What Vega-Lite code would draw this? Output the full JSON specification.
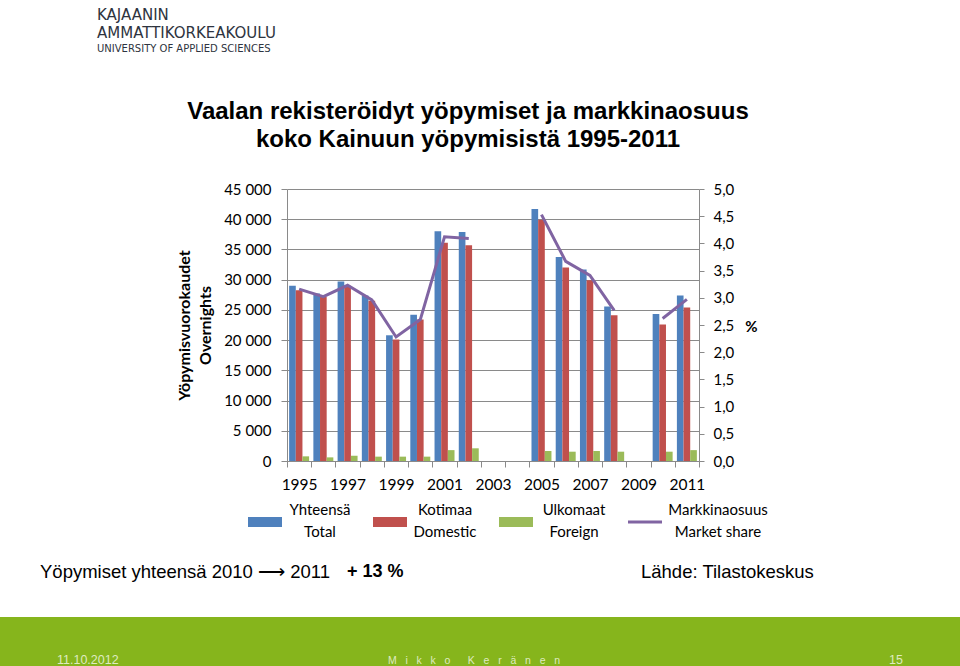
{
  "$schema": "https://vega.github.io/schema/vega-lite/v6.json",
  "background": "white",
  "padding": 0,
  "autosize": {"type": "pad"},
  "config": {
    "view": {"stroke": null},
    "font": "Lato",
    "title": {"font": "Liberation Sans", "color": "#000000"}
  },
  "datasets": {
    "overnights": [
      {"year": 1995, "series": "Yhteensä", "value": 29000}, {"year": 1995, "series": "Kotimaa", "value": 28250}, {"year": 1995, "series": "Ulkomaat", "value": 770},
      {"year": 1996, "series": "Yhteensä", "value": 27700}, {"year": 1996, "series": "Kotimaa", "value": 27150}, {"year": 1996, "series": "Ulkomaat", "value": 600},
      {"year": 1997, "series": "Yhteensä", "value": 29700}, {"year": 1997, "series": "Kotimaa", "value": 29000}, {"year": 1997, "series": "Ulkomaat", "value": 880},
      {"year": 1998, "series": "Yhteensä", "value": 27400}, {"year": 1998, "series": "Kotimaa", "value": 26500}, {"year": 1998, "series": "Ulkomaat", "value": 720},
      {"year": 1999, "series": "Yhteensä", "value": 20800}, {"year": 1999, "series": "Kotimaa", "value": 20100}, {"year": 1999, "series": "Ulkomaat", "value": 720},
      {"year": 2000, "series": "Yhteensä", "value": 24200}, {"year": 2000, "series": "Kotimaa", "value": 23400}, {"year": 2000, "series": "Ulkomaat", "value": 720},
      {"year": 2001, "series": "Yhteensä", "value": 38000}, {"year": 2001, "series": "Kotimaa", "value": 36100}, {"year": 2001, "series": "Ulkomaat", "value": 1800},
      {"year": 2002, "series": "Yhteensä", "value": 37900}, {"year": 2002, "series": "Kotimaa", "value": 35700}, {"year": 2002, "series": "Ulkomaat", "value": 2100},
      {"year": 2005, "series": "Yhteensä", "value": 41700}, {"year": 2005, "series": "Kotimaa", "value": 39900}, {"year": 2005, "series": "Ulkomaat", "value": 1650},
      {"year": 2006, "series": "Yhteensä", "value": 33750}, {"year": 2006, "series": "Kotimaa", "value": 32000}, {"year": 2006, "series": "Ulkomaat", "value": 1540},
      {"year": 2007, "series": "Yhteensä", "value": 31700}, {"year": 2007, "series": "Kotimaa", "value": 29900}, {"year": 2007, "series": "Ulkomaat", "value": 1650},
      {"year": 2008, "series": "Yhteensä", "value": 25550}, {"year": 2008, "series": "Kotimaa", "value": 24100}, {"year": 2008, "series": "Ulkomaat", "value": 1540},
      {"year": 2010, "series": "Yhteensä", "value": 24300}, {"year": 2010, "series": "Kotimaa", "value": 22600}, {"year": 2010, "series": "Ulkomaat", "value": 1540},
      {"year": 2011, "series": "Yhteensä", "value": 27400}, {"year": 2011, "series": "Kotimaa", "value": 25400}, {"year": 2011, "series": "Ulkomaat", "value": 1800}
    ],
    "share": [
      {"year": 1995, "share": 3.16, "segment": "a"}, {"year": 1996, "share": 3.02, "segment": "a"},
      {"year": 1997, "share": 3.23, "segment": "a"}, {"year": 1998, "share": 2.96, "segment": "a"},
      {"year": 1999, "share": 2.28, "segment": "a"}, {"year": 2000, "share": 2.6, "segment": "a"},
      {"year": 2001, "share": 4.12, "segment": "a"}, {"year": 2002, "share": 4.09, "segment": "a"},
      {"year": 2005, "share": 4.53, "segment": "b"}, {"year": 2006, "share": 3.67, "segment": "b"},
      {"year": 2007, "share": 3.41, "segment": "b"}, {"year": 2008, "share": 2.77, "segment": "b"},
      {"year": 2010, "share": 2.62, "segment": "c"}, {"year": 2011, "share": 2.97, "segment": "c"}
    ]
  },
  "columns": 3,
  "bounds": "flush",
  "spacing": 0,
  "concat": [
    {
      "width": 287, "height": 189,
      "data": {"values": []}, "mark": "point",
      "title": {"text": ["KAJAANIN", "AMMATTIKORKEAKOULU"], "subtitle": "UNIVERSITY OF APPLIED SCIENCES",
        "anchor": "start", "dx": 97, "orient": "top", "offset": -54,
        "font": "DejaVu Sans", "fontSize": 15, "fontWeight": "normal", "lineHeight": 18, "color": "#2e3440",
        "subtitleFont": "DejaVu Sans", "subtitleFontSize": 10, "subtitleColor": "#2e3440", "subtitlePadding": 3}
    },
    {"width": 412, "height": 189, "data": {"values": []}, "mark": "point"},
    {"width": 261, "height": 189, "data": {"values": []}, "mark": "point"},

    {"width": 287, "height": 272, "data": {"values": []}, "mark": "point"},
    {
      "width": 412, "height": 272,
      "title": {"text": ["Vaalan rekisteröidyt yöpymiset ja markkinaosuus", "koko Kainuun yöpymisistä 1995-2011"],
        "font": "Liberation Sans", "fontSize": 24, "fontWeight": "bold", "lineHeight": 28, "color": "#000000",
        "anchor": "middle", "offset": 30, "dx": -25},
      "layer": [
        {
          "data": {"name": "overnights"},
          "mark": {"type": "bar"},
          "encoding": {
            "x": {"field": "year", "type": "ordinal",
              "scale": {"domain": [1995,1996,1997,1998,1999,2000,2001,2002,2003,2004,2005,2006,2007,2008,2009,2010,2011], "paddingInner": 0, "paddingOuter": 0},
              "axis": {"title": null, "labelExpr": "datum.value % 2 == 1 ? datum.label : ''", "tickBand": "extent",
                "tickSize": 6, "labelPadding": 10, "labelAngle": 0, "labelFontSize": 15.5, "labelFont": "Lato", "labelColor": "#000000",
                "domainColor": "#8a8a8a", "tickColor": "#8a8a8a", "grid": false}},
            "xOffset": {"field": "series", "type": "nominal",
              "scale": {"domain": ["Yhteensä", "Kotimaa", "Ulkomaat"], "paddingInner": 0, "paddingOuter": 0.32}},
            "y": {"field": "value", "type": "quantitative",
              "scale": {"domain": [0, 45000]},
              "axis": {"title": ["Yöpymisvuorokaudet", "Overnights"], "titleFont": "Lato", "titleFontWeight": "bold", "titleFontSize": 16,
                "titleColor": "#000000", "titleLineHeight": 21, "titlePadding": 10,
                "values": [0,5000,10000,15000,20000,25000,30000,35000,40000,45000],
                "labelExpr": "replace(format(datum.value, ','), ',', ' ')",
                "labelFontSize": 15, "labelFont": "Lato", "labelColor": "#000000", "labelPadding": 10, "tickSize": 6,
                "grid": true, "gridColor": "#8a8a8a", "domainColor": "#8a8a8a", "tickColor": "#8a8a8a"}},
            "color": {"field": "series", "type": "nominal",
              "scale": {"domain": ["Yhteensä", "Kotimaa", "Ulkomaat", "Markkinaosuus"], "range": ["#4f81bd", "#c0504d", "#9bbb59", "#8064a2"]},
              "legend": {"orient": "none", "legendX": 248, "legendY": 505, "direction": "horizontal", "title": null, "padding": 0,
                "columnPadding": 22, "labelOffset": 7, "labelFontSize": 15, "labelFont": "Lato", "labelColor": "#000000", "labelLimit": 200,
                "labelAlign": "center",
                "symbolSize": 1156, "symbolType": "M-1,-0.3H1V0.3H-1Z", "symbolStrokeWidth": 0,
                "labelExpr": "datum.label == 'Yhteensä' ? ['Yhteensä', 'Total'] : datum.label == 'Kotimaa' ? ['Kotimaa', 'Domestic'] : datum.label == 'Ulkomaat' ? ['Ulkomaat', 'Foreign'] : ['Markkinaosuus', 'Market share']",
                "encode": {
                  "symbols": {"update": {
                    "shape": {"signal": "datum.value == 'Markkinaosuus' ? 'M-1,-0.09H1V0.09H-1Z' : 'M-1,-0.3H1V0.3H-1Z'"},
                    "fill": {"scale": "color", "field": "value"},
                    "opacity": {"value": 1}}},
                  "labels": {"update": {"lineHeight": {"value": 22}, "dy": {"value": -12},
                    "dx": {"signal": "datum.value == 'Markkinaosuus' ? 49 : datum.value == 'Ulkomaat' ? 34 : 31"}}}
                }}}
          }
        },
        {
          "data": {"name": "share"},
          "mark": {"type": "line", "strokeWidth": 3},
          "encoding": {
            "x": {"field": "year", "type": "ordinal"},
            "y": {"field": "share", "type": "quantitative", "scale": {"domain": [0, 5]},
              "axis": {"orient": "right", "title": "%", "titleAngle": 0, "titleX": 52, "titleY": 137, "titleAlign": "center", "titleBaseline": "middle",
                "titleFont": "Lato", "titleFontWeight": "bold", "titleFontSize": 15, "titleColor": "#000000",
                "values": [0,0.5,1,1.5,2,2.5,3,3.5,4,4.5,5],
                "labelExpr": "replace(format(datum.value, '.1f'), '.', ',')",
                "labelFontSize": 15, "labelFont": "Lato", "labelColor": "#000000", "labelPadding": 9, "tickSize": 5,
                "grid": false, "domainColor": "#8a8a8a", "tickColor": "#8a8a8a"}},
            "detail": {"field": "segment"},
            "color": {"datum": "Markkinaosuus"}
          }
        }
      ],
      "resolve": {"scale": {"y": "independent"}}
    },
    {"width": 261, "height": 272, "data": {"values": []}, "mark": "point"},

    {
      "width": 287, "height": 156, "data": {"values": []}, "mark": "point",
      "title": {"text": "Yöpymiset yhteensä 2010 ⟶ 2011", "anchor": "start", "dx": 40, "orient": "top", "offset": -120,
        "font": "Liberation Sans", "fontSize": 18.5, "fontWeight": "normal", "color": "#000000"}
    },
    {
      "width": 412, "height": 156, "data": {"values": []}, "mark": "point",
      "title": {"text": "+ 13 %", "anchor": "start", "dx": 60, "orient": "top", "offset": -120,
        "font": "Liberation Sans", "fontSize": 18, "fontWeight": "bold", "color": "#000000"}
    },
    {
      "width": 261, "height": 156, "data": {"values": []}, "mark": "point",
      "title": {"text": "Lähde: Tilastokeskus", "anchor": "start", "dx": -58, "orient": "top", "offset": -120,
        "font": "Liberation Sans", "fontSize": 18.5, "fontWeight": "normal", "color": "#000000"}
    },

    {
      "width": 287, "height": 49, "data": {"values": []}, "mark": "point",
      "view": {"fill": "#86b51c", "stroke": null},
      "title": {"text": "11.10.2012", "anchor": "start", "dx": 57, "orient": "top", "offset": -49,
        "font": "Liberation Sans", "fontSize": 12.5, "fontWeight": "normal", "color": "#dfebc0"}
    },
    {
      "width": 412, "height": 49, "data": {"values": []}, "mark": "point",
      "view": {"fill": "#86b51c", "stroke": null},
      "title": {"text": "M\u00a0\u00a0\u00a0i\u00a0\u00a0\u00a0k\u00a0\u00a0\u00a0k\u00a0\u00a0\u00a0o\u00a0\u00a0\u00a0\u00a0\u00a0\u00a0K\u00a0\u00a0\u00a0e\u00a0\u00a0\u00a0r\u00a0\u00a0\u00a0ä\u00a0\u00a0\u00a0n\u00a0\u00a0\u00a0e\u00a0\u00a0\u00a0n", "anchor": "middle", "dx": -19, "orient": "top", "offset": -49,
        "font": "Liberation Sans", "fontSize": 10.5, "fontWeight": "normal", "color": "#dfebc0"}
    },
    {
      "width": 261, "height": 49, "data": {"values": []}, "mark": "point",
      "view": {"fill": "#86b51c", "stroke": null},
      "title": {"text": "15", "anchor": "end", "dx": -57, "orient": "top", "offset": -49,
        "font": "Liberation Sans", "fontSize": 12.5, "fontWeight": "normal", "color": "#dfebc0"}
    }
  ]
}
